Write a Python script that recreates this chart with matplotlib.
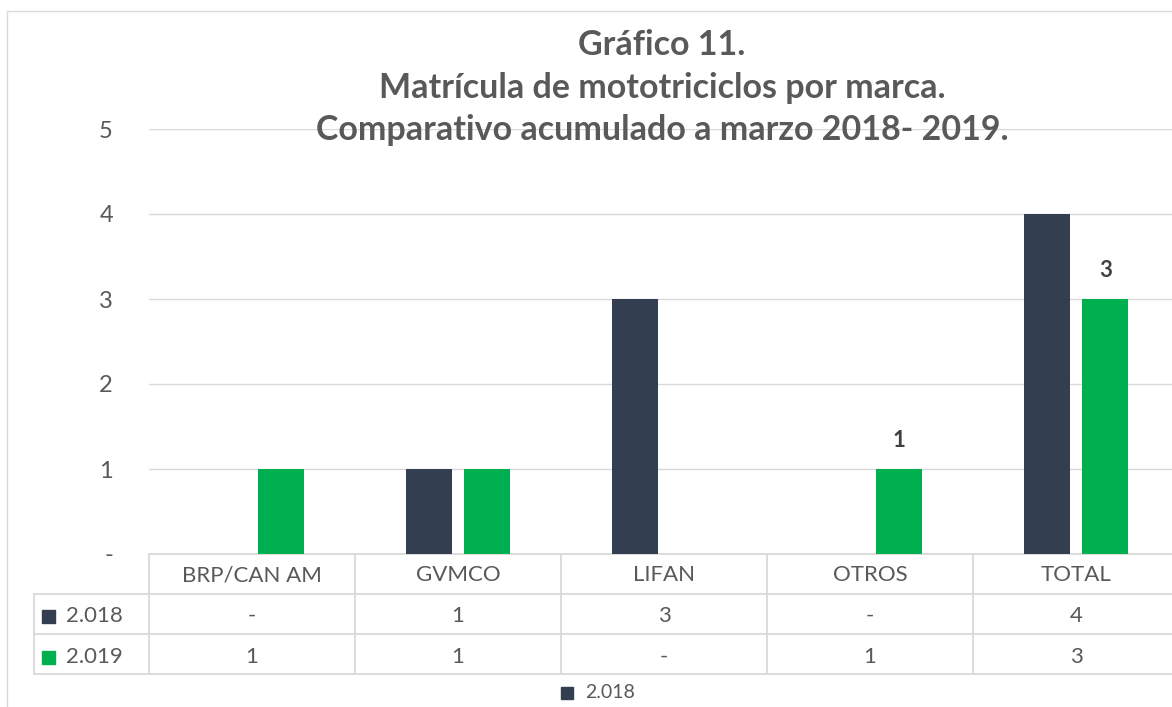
import matplotlib
matplotlib.use("Agg")
import matplotlib.pyplot as plt
from matplotlib.patches import Rectangle
import numpy as np

plt.rcParams['font.family'] = ['Lato', 'DejaVu Sans']

# datos
marcas = ["BRP/CAN AM", "GVMCO", "LIFAN", "OTROS", "TOTAL"]
v2018 = [0, 1, 3, 0, 4]
v2019 = [1, 1, 0, 1, 3]
series = ["2.018", "2.019"]
colores = ["#333F50", "#00B050"]
etiquetas_2019 = {3: 1, 4: 3}   # indice -> valor mostrado sobre la barra

W, H = 1172, 707
fig = plt.figure(figsize=(W / 100, H / 100), dpi=100)

# borde del area del grafico
fig.patches.append(Rectangle((7 / W, -0.1), 2, 1 - 11 / H + 0.1, transform=fig.transFigure,
                             fill=False, ec="#D9D9D9", lw=1))

x0, x1, yb, yt = 149, 1179, 554, 129
ax = fig.add_axes([x0 / W, 1 - yb / H, (x1 - x0) / W, (yb - yt) / H])

x = np.arange(len(marcas))
ancho = 0.223
off = 0.143
ax.bar(x - off, v2018, ancho, color=colores[0], zorder=3)
ax.bar(x + off, v2019, ancho, color=colores[1], zorder=3)

for i, v in etiquetas_2019.items():
    ax.text(x[i] + off, v2019[i] + 0.33, str(v), ha="center", va="center",
            fontsize=16, fontweight="bold", color="#404040")

ax.set_xlim(-0.5, len(marcas) - 0.5)
ax.set_ylim(0, 5)
ax.set_yticks(range(6))
ax.set_yticklabels(["-", "1", "2", "3", "4", "5"], fontsize=17, color="#595959")
ax.tick_params(axis="y", length=0, pad=26)
ax.set_xticks([])
ax.grid(axis="y", color="#D9D9D9", lw=1, zorder=0)
for s in ax.spines.values():
    s.set_visible(False)

# titulo
tcol = "#595959"
lineas = ["Gráfico 11.", "Matrícula de mototriciclos por marca.",
          "Comparativo acumulado a marzo 2018- 2019."]
for k, t in enumerate(lineas):
    fig.text(662 / W, 1 - (45 + 42.5 * k) / H, t, ha="center", va="center",
             fontsize=24.5, fontweight="bold", color=tcol)

# tabla de datos
tr = ax.get_xaxis_transform()
px = 1 / (yb - yt)          # un pixel en coordenadas de ejes (vertical)
filas_y = [554, 594, 634, 674]
lc = "#D9D9D9"
left_tab = (34 - x0) / (x1 - x0) * len(marcas) - 0.5

def yax(p):
    return (yb - p) * px

for p in filas_y:
    xs = -0.5 if p == 554 else left_tab
    ax.plot([xs, len(marcas) - 0.5 + 1], [yax(p), yax(p)], transform=tr, color=lc,
            lw=1.3, clip_on=False)
for b in np.arange(-0.5, len(marcas), 1.0):
    ax.plot([b, b], [yax(554), yax(674)], transform=tr, color=lc, lw=1.3, clip_on=False)
ax.plot([left_tab, left_tab], [yax(594), yax(674)], transform=tr, color=lc, lw=1.3,
        clip_on=False)

for i, m in enumerate(marcas):
    ax.text(x[i], yax(575), m, transform=tr, ha="center", va="center",
            fontsize=16, color=tcol, clip_on=False)
    for r, vals in enumerate([v2018, v2019]):
        ax.text(x[i], yax(616 + 41 * r), "-" if vals[i] == 0 else str(vals[i]),
                transform=tr, ha="center", va="center", fontsize=16, color=tcol,
                clip_on=False)

for r, (s, c) in enumerate(zip(series, colores)):
    yy = 1 - (616 + 41 * r) / H
    fig.patches.append(Rectangle((42 / W, yy - 7 / H), 13 / W, 13 / H,
                                 transform=fig.transFigure, color=c))
    fig.text(66 / W, yy, s, ha="left", va="center", fontsize=16, color=tcol)

# leyenda inferior
fig.patches.append(Rectangle((561 / W, 1 - 699 / H), 12 / W, 12 / H,
                             transform=fig.transFigure, color=colores[0]))
fig.text(585 / W, 1 - 693 / H, series[0], ha="left", va="center", fontsize=14, color=tcol)

fig.savefig("out.png", dpi=100)
